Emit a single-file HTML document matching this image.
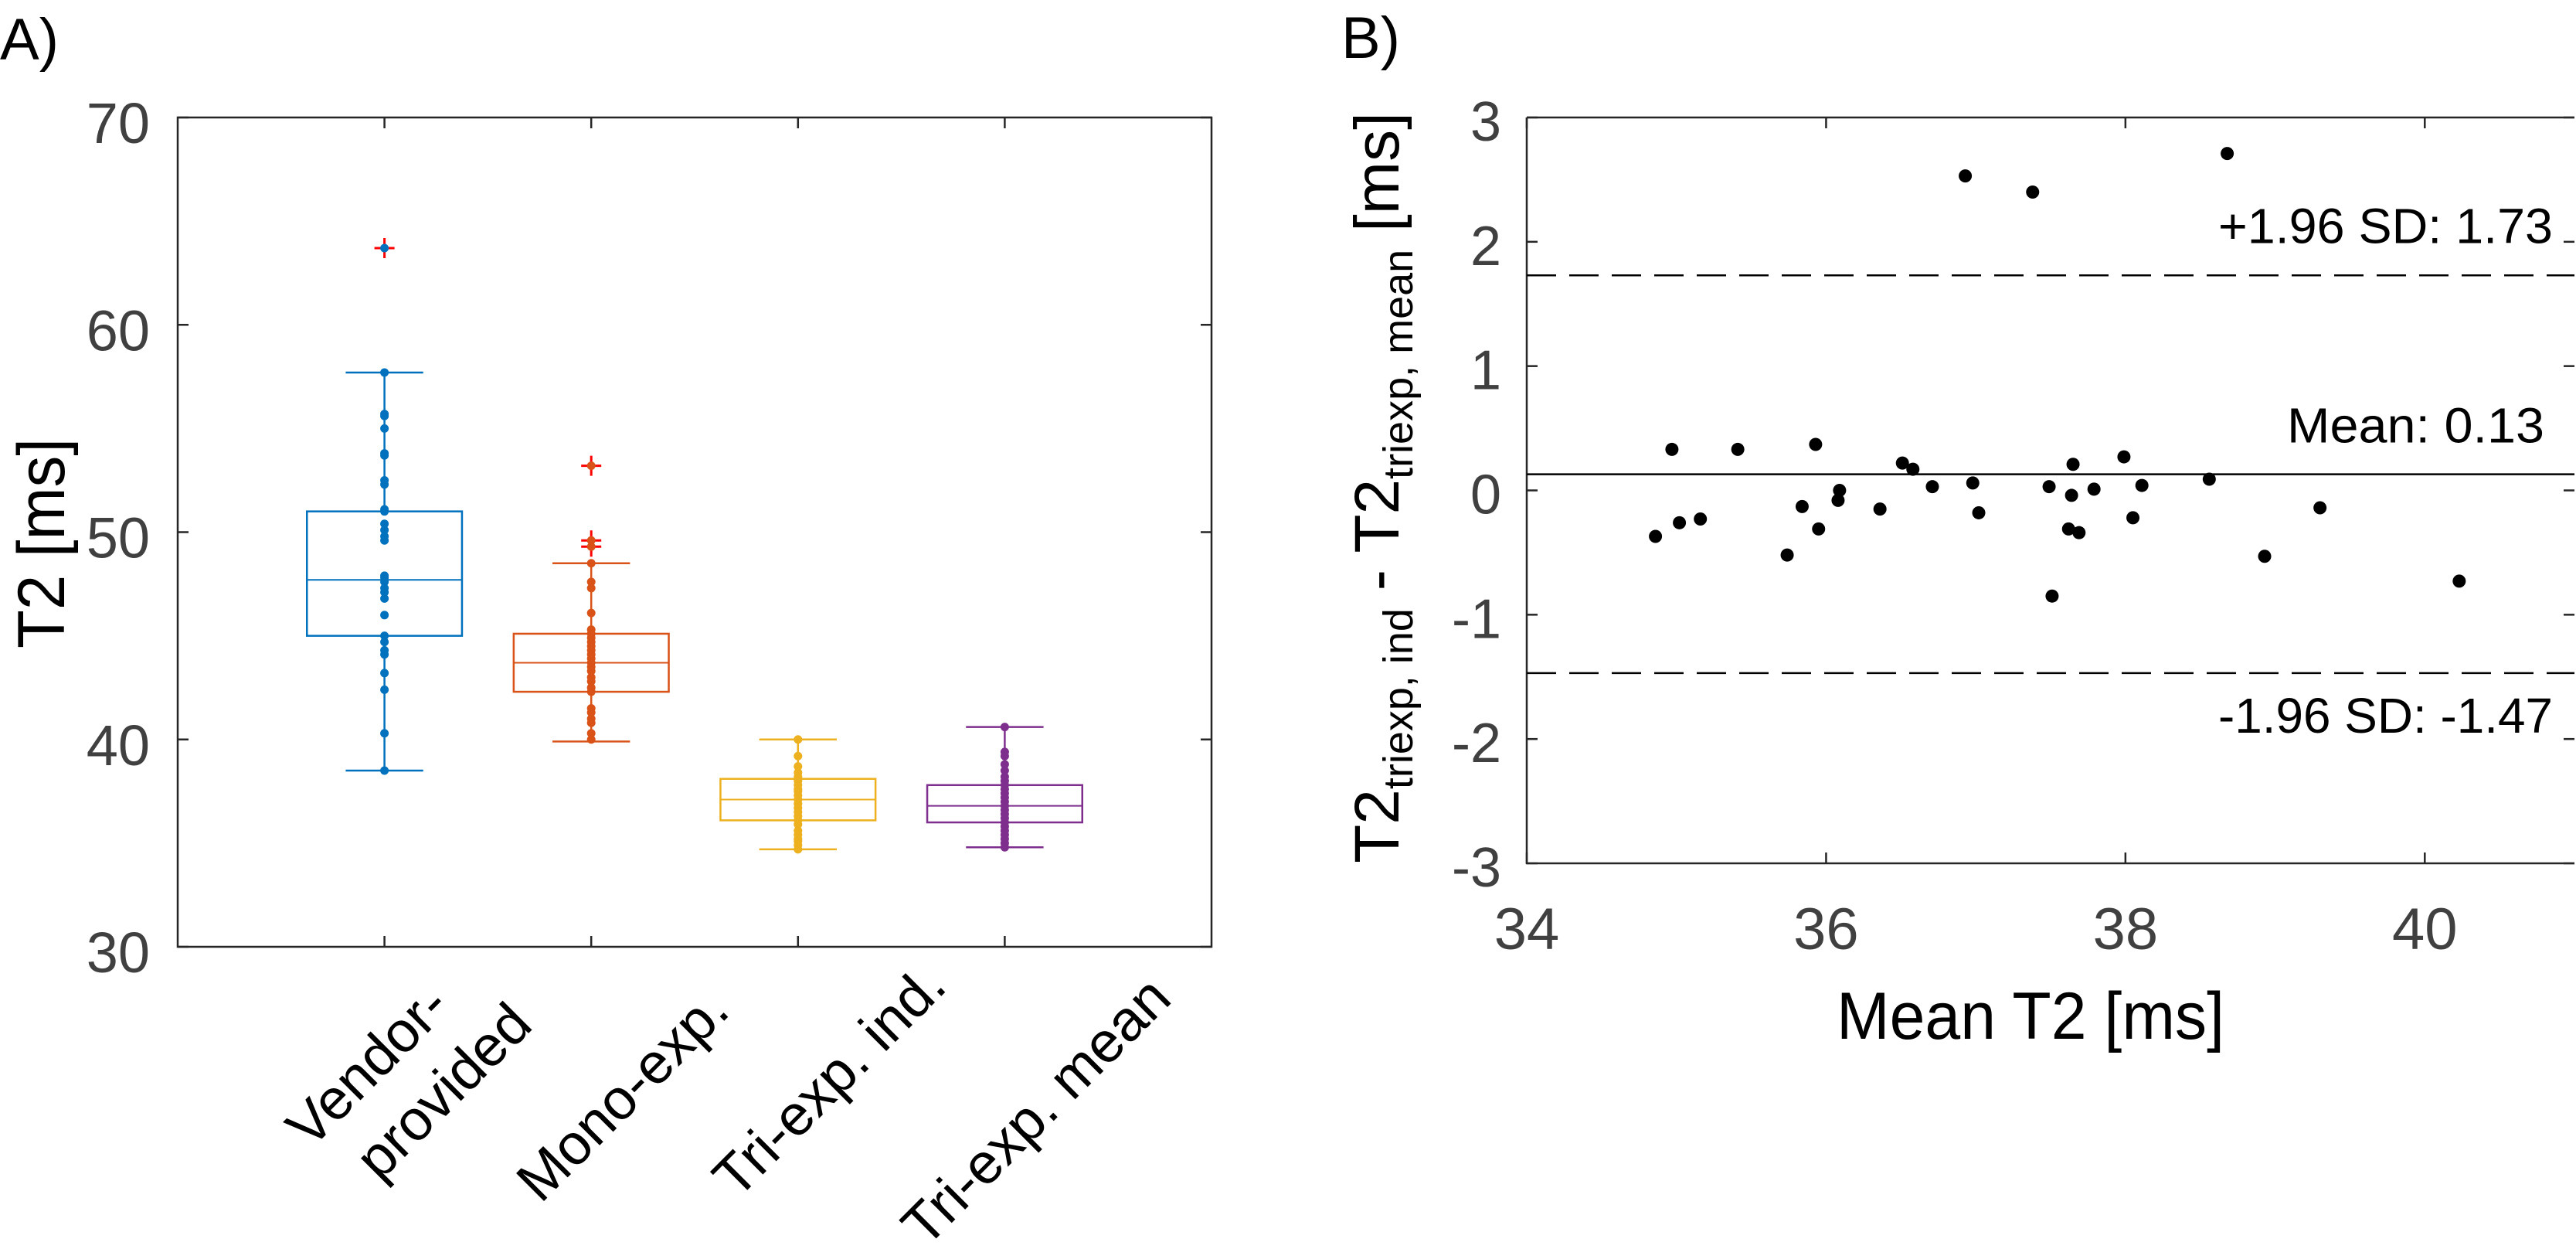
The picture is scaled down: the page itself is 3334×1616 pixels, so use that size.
<!DOCTYPE html>
<html><head><meta charset="utf-8"><style>
html,body{margin:0;padding:0;background:#fff}
svg{display:block;font-family:"Liberation Sans",sans-serif}
</style></head><body>
<svg id="fig" width="3334" height="1616" viewBox="0 0 3334 1616" xmlns="http://www.w3.org/2000/svg">
<rect width="3334" height="1616" fill="#fff"/>
<text x="0" y="77" font-size="76" fill="#000">A)</text>
<text x="1736" y="75" font-size="76" fill="#000">B)</text>
<g id="pa"></g>
<g id="pb"></g>
</svg>
<script>
// ---------- Panel A data ----------
const categories = ["Vendor-provided","Mono-exp.","Tri-exp. ind.","Tri-exp. mean"];
const boxQ1 = [45.0, 42.3, 36.1, 36.0];
const boxMedian = [47.7, 43.7, 37.1, 36.8];
const boxQ3 = [51.0, 45.1, 38.1, 37.8];
const whiskerLow = [38.5, 39.9, 34.7, 34.8];
const whiskerHigh = [57.7, 48.5, 40.0, 40.6];
const outliersVendor = [63.7];
const outliersMono = [49.3, 49.6, 53.2];
const outliersTriInd = [];
const outliersTriMean = [];
const pointsVendor = [38.5,40.3,42.4,43.2,44.1,44.3,44.7,45.0,46.0,46.8,47.1,47.3,47.6,47.8,47.9,49.6,49.8,50.1,50.4,51.0,51.1,52.3,52.5,53.7,53.8,55.0,55.6,55.7,57.7,63.7];
const pointsMono = [40.0,40.3,40.8,41.0,41.3,41.5,42.3,42.5,42.8,43.0,43.3,43.5,43.7,43.9,44.1,44.3,44.5,44.7,44.9,45.1,45.3,46.1,47.3,47.6,48.5,49.3,49.6,53.2];
const pointsTriInd = [34.7,34.9,35.1,35.2,35.4,35.6,35.9,36.1,36.3,36.5,36.7,36.9,37.1,37.3,37.5,37.6,37.8,38.0,38.2,38.4,38.7,39.2,40.0];
const pointsTriMean = [34.8,35.0,35.2,35.4,35.6,35.8,36.0,36.2,36.4,36.6,36.8,37.0,37.2,37.4,37.6,37.8,38.0,38.2,38.5,38.8,39.2,39.4,40.6];
const yTicksA = [30,40,50,60,70];

// ---------- Panel B data ----------
const meanT2 = [34.86,34.97,35.02,35.16,35.41,35.74,35.84,35.93,35.95,36.09,36.08,36.36,36.51,36.58,36.71,36.93,36.98,37.02,37.38,37.49,37.51,37.62,37.64,37.65,37.69,37.79,37.99,38.05,38.11,38.56,38.68,38.93,39.30,40.23];
const diffT2 = [-0.37,0.33,-0.26,-0.23,0.33,-0.52,-0.13,0.37,-0.31,0.0,-0.08,-0.15,0.22,0.17,0.03,2.53,0.06,-0.18,2.40,0.03,-0.85,-0.31,-0.04,0.21,-0.34,0.01,0.27,-0.22,0.04,0.09,2.71,-0.53,-0.14,-0.73];
const meanDiff = [0.13];
const limitsOfAgreement = [1.73, -1.47];
const xTicksB = [34,36,38,40];
const yTicksB = [-3,-2,-1,0,1,2,3];

const NS="http://www.w3.org/2000/svg";
function mk(parent,tag,attrs){const e=document.createElementNS(NS,tag);for(const k in attrs)e.setAttribute(k,attrs[k]);parent.appendChild(e);return e;}

// ---------- Panel A ----------
(function(){
const g=document.getElementById('pa');
const L=230,R=1568,T=152,B=1225;
const xA=v=>L+(v-0)/(5-0)*(R-L);
const yA=v=>B-(v-30)/(70-30)*(B-T);
const colors=["#0072BD","#D95319","#EDB120","#7E2F8E"];
const pts=[pointsVendor,pointsMono,pointsTriInd,pointsTriMean];
const outs=[outliersVendor,outliersMono,outliersTriInd,outliersTriMean];
let frame=mk(g,'rect',{x:L,y:T,width:R-L,height:B-T,fill:'none',stroke:'#262626','stroke-width':2.5});


yTicksA.forEach(v=>{
  const y=yA(v);
  let t1=mk(g,'line',{x1:L,x2:L+14,y1:y,y2:y,stroke:'#262626','stroke-width':2.5});
  
  
  let t2=mk(g,'line',{x1:R-14,x2:R,y1:y,y2:y,stroke:'#262626','stroke-width':2.5});
  
  
  let tl=mk(g,'text',{x:194,y:y+33,'font-size':74,fill:'#404040','text-anchor':'end'});
  tl.textContent=v;
  
  
});
let yt=mk(g,'text',{x:83,y:703,'font-size':86,fill:'#000','text-anchor':'middle',transform:'rotate(-90 83 703)',textLength:272,lengthAdjust:'spacingAndGlyphs'});
yt.textContent='T2 [ms]';


const labelEnd=[null,[947,1311],[1228,1279],[1519,1295]];
categories.forEach((c,i)=>{
  const cx=xA(i+1);
  let tk=mk(g,'line',{x1:cx,x2:cx,y1:B,y2:B-14,stroke:'#262626','stroke-width':2.5});
  
  
  let tk2=mk(g,'line',{x1:cx,x2:cx,y1:T,y2:T+14,stroke:'#262626','stroke-width':2.5});
  
  
  const col=colors[i], hw=(R-L)/5*0.375, cw=hw/2;
  let w1=mk(g,'line',{x1:cx,x2:cx,y1:yA(boxQ3[i]),y2:yA(whiskerHigh[i]),stroke:col,'stroke-width':2.5});
  
  
  let w2=mk(g,'line',{x1:cx,x2:cx,y1:yA(boxQ1[i]),y2:yA(whiskerLow[i]),stroke:col,'stroke-width':2.5});
  
  
  let c1=mk(g,'line',{x1:cx-cw,x2:cx+cw,y1:yA(whiskerHigh[i]),y2:yA(whiskerHigh[i]),stroke:col,'stroke-width':2.5});
  
  
  let c2=mk(g,'line',{x1:cx-cw,x2:cx+cw,y1:yA(whiskerLow[i]),y2:yA(whiskerLow[i]),stroke:col,'stroke-width':2.5});
  
  
  let bx=mk(g,'rect',{x:cx-hw,y:yA(boxQ3[i]),width:2*hw,height:yA(boxQ1[i])-yA(boxQ3[i]),fill:'#fff',stroke:col,'stroke-width':2.5});
  
  
  let md=mk(g,'line',{x1:cx-hw,x2:cx+hw,y1:yA(boxMedian[i]),y2:yA(boxMedian[i]),stroke:col,'stroke-width':2});
  
  
  outs[i].forEach(v=>{
    const y=yA(v);
    let o=mk(g,'path',{d:`M${cx-13},${y}H${cx+13}M${cx},${y-13}V${y+13}`,stroke:'#FF0000','stroke-width':3,fill:'none'});
    
    
  });
  pts[i].forEach(v=>{
    let p=mk(g,'circle',{cx:cx,cy:yA(v),r:5.5,fill:col});
    
    
  });
  if(i===0){
    const lab=mk(g,'text',{x:585,y:1305,'font-size':74,fill:'#000','text-anchor':'end',transform:'rotate(-45 585 1305)'});
    lab.textContent='Vendor-';
    
    
    const lab2=mk(g,'text',{x:692,y:1329,'font-size':74,fill:'#000','text-anchor':'end',transform:'rotate(-45 692 1329)'});
    lab2.textContent='provided';
    
    
  } else {
    const ex=labelEnd[i][0], ey=labelEnd[i][1];
    const lab=mk(g,'text',{x:ex,y:ey,'font-size':74,fill:'#000','text-anchor':'end',transform:`rotate(-45 ${ex} ${ey})`});
    lab.textContent=c;
    
    
  }
});
})();

// ---------- Panel B ----------
(function(){
const g=document.getElementById('pb');
const L=1976,R=3332,T=152,B=1117;
const xB=v=>L+(v-34)/(41-34)*(R-L);
const yB=v=>B-(v-(-3))/(3-(-3))*(B-T);
let frame=mk(g,'path',{d:`M${L},${T}H${R}M${L},${T}V${B}H${R}`,fill:'none',stroke:'#262626','stroke-width':2.5});


yTicksB.forEach(v=>{
  const y=yB(v);
  let t=mk(g,'line',{x1:L,x2:L+14,y1:y,y2:y,stroke:'#262626','stroke-width':2.5});
  
  
  let t2=mk(g,'line',{x1:R-14,x2:R,y1:y,y2:y,stroke:'#262626','stroke-width':2.5});
  
  
  let tl=mk(g,'text',{x:1943,y:y+30,'font-size':72,fill:'#404040','text-anchor':'end'});
  tl.textContent=v;
  
  
});
xTicksB.forEach(v=>{
  const x=xB(v);
  let t=mk(g,'line',{x1:x,x2:x,y1:B,y2:B-14,stroke:'#262626','stroke-width':2.5});
  
  
  let t2=mk(g,'line',{x1:x,x2:x,y1:T,y2:T+14,stroke:'#262626','stroke-width':2.5});
  
  
  let tl=mk(g,'text',{x:x,y:1228,'font-size':76,fill:'#404040','text-anchor':'middle'});
  tl.textContent=v;
  
  
});
let xt=mk(g,'text',{x:2628,y:1344,'font-size':86,fill:'#000','text-anchor':'middle',textLength:502,lengthAdjust:'spacingAndGlyphs'});
xt.textContent='Mean T2 [ms]';


let yt=mk(g,'text',{x:1810,y:631,'font-size':82,fill:'#000','text-anchor':'middle',transform:'rotate(-90 1810 631)'});


yt.innerHTML='T2<tspan font-size="54" dy="18">triexp, ind</tspan><tspan dy="-18"> - T2</tspan><tspan font-size="54" dy="18">triexp, mean</tspan><tspan dy="-18"> [ms]</tspan>';
let ml=mk(g,'line',{x1:L,x2:R,y1:yB(meanDiff[0]),y2:yB(meanDiff[0]),stroke:'#000','stroke-width':2.5});


limitsOfAgreement.forEach(v=>{
  let l=mk(g,'line',{x1:L,x2:R,y1:yB(v),y2:yB(v),stroke:'#000','stroke-width':2.5,'stroke-dasharray':'38 17'});
  
  
});
const a1=mk(g,'text',{x:3304,y:yB(limitsOfAgreement[0])-42,'font-size':64,fill:'#000','text-anchor':'end',textLength:433,lengthAdjust:'spacingAndGlyphs'});
a1.textContent='+1.96 SD: '+limitsOfAgreement[0].toFixed(2);


const a2=mk(g,'text',{x:3293,y:yB(meanDiff[0])-41,'font-size':64,fill:'#000','text-anchor':'end',textLength:333,lengthAdjust:'spacingAndGlyphs'});
a2.textContent='Mean: '+meanDiff[0].toFixed(2);


const a3=mk(g,'text',{x:3304,y:yB(limitsOfAgreement[1])+77,'font-size':64,fill:'#000','text-anchor':'end',textLength:433,lengthAdjust:'spacingAndGlyphs'});
a3.textContent='-1.96 SD: '+limitsOfAgreement[1].toFixed(2);


meanT2.forEach((m,i)=>{
  let p=mk(g,'circle',{cx:xB(m),cy:yB(diffT2[i]),r:8.5,fill:'#000'});
  
  
});
})();
</script>
</body></html>
